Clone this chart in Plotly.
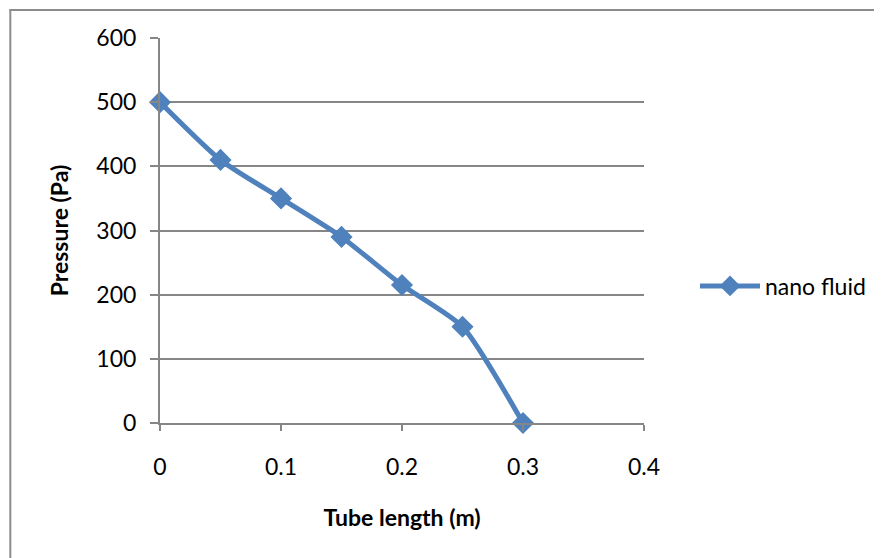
import plotly.graph_objects as go

tube_length = [0, 0.05, 0.1, 0.15, 0.2, 0.25, 0.3]
pressure = [500, 410, 350, 290, 215, 150, 0]
series_name = "nano fluid"
x_title = "Tube length (m)"
y_title = "Pressure (Pa)"

FONT = "Lato"
OFF = 8  # page offset of the rendered figure
fig = go.Figure()
fig.add_trace(go.Scatter(
    x=tube_length, y=pressure, name=series_name,
    mode="lines+markers",
    line=dict(color="#4F81BD", width=5, shape="spline", smoothing=0.6),
    marker=dict(symbol="diamond", size=17, color="#4F81BD"),
    cliponaxis=False,
))

W, H = 882 - OFF, 558 - OFF
L, R, T, B = 160 - OFF, 645 - OFF, 38 - OFF, 423 - OFF
pw, ph = R - L, B - T
def px(x):
    return (x - OFF - L) / pw
def py(y):
    return (B - (y - OFF)) / ph

fig.update_layout(
    width=W, height=H,
    margin=dict(l=L, r=W - R, t=T, b=H - B),
    paper_bgcolor="white", plot_bgcolor="white",
    font=dict(family=FONT, size=23, color="black"),
    showlegend=True,
    legend=dict(x=px(695), y=py(286), xanchor="left", yanchor="middle",
                font=dict(size=23), itemwidth=60, bgcolor="rgba(0,0,0,0)"),
    xaxis=dict(range=[0, 0.4], dtick=0.1, tick0=0, showgrid=False,
               showline=True, linecolor="#868686", linewidth=2,
               ticks="outside", ticklen=6, tickcolor="#868686", tickwidth=2,
               ticklabelstandoff=16, zeroline=False, tickformat="~g",
               title=dict(text="<b>" + x_title + "</b>", standoff=31, font=dict(size=23))),
    yaxis=dict(range=[0, 600], dtick=100, showgrid=True, gridcolor="#868686", gridwidth=2,
               showline=True, linecolor="#868686", linewidth=2,
               ticks="outside", ticklen=8, tickcolor="#868686", tickwidth=2,
               ticklabelstandoff=9, zeroline=False,
               title=dict(text="<b>" + y_title + "</b>", standoff=21, font=dict(size=23))),
    shapes=[
        dict(type="line", xref="paper", yref="paper", x0=px(10), x1=px(10), y0=py(10), y1=py(560),
             line=dict(color="#8c8c8c", width=2)),
        dict(type="line", xref="paper", yref="paper", x0=px(9), x1=px(884), y0=py(10), y1=py(10),
             line=dict(color="#8c8c8c", width=2)),
    ],
)

fig.write_html("out.html")
